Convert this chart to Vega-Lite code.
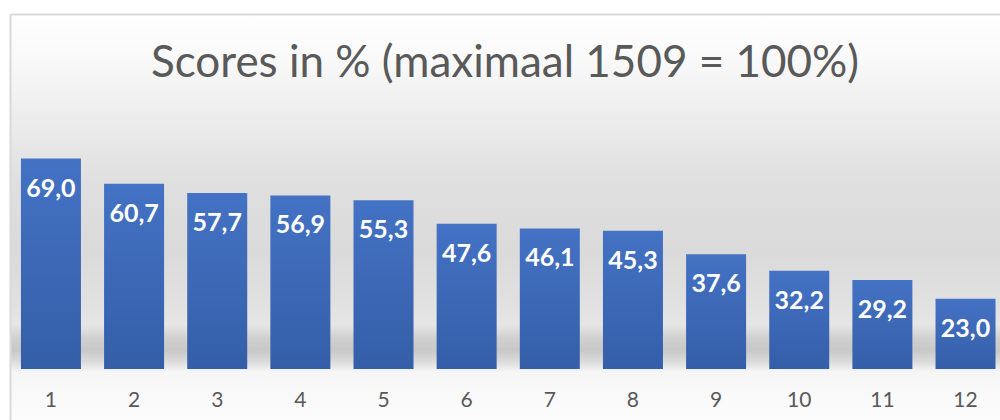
{
  "$schema": "https://vega.github.io/schema/vega-lite/v6.json",
  "width": 990,
  "height": 406,
  "autosize": "none",
  "padding": {"left": 10, "top": 14, "right": 0, "bottom": 0},
  "background": "#ffffff",
  "view": {
    "stroke": null,
    "fill": {
      "gradient": "linear", "x1": 0, "y1": 0, "x2": 0, "y2": 1,
      "stops": [
        {"offset": 0, "color": "#ffffff"},
        {"offset": 0.113, "color": "#f9f9f9"},
        {"offset": 0.261, "color": "#ececec"},
        {"offset": 0.409, "color": "#e0e0e0"},
        {"offset": 0.581, "color": "#dadada"},
        {"offset": 0.704, "color": "#e0e0e0"},
        {"offset": 0.766, "color": "#e6e6e6"},
        {"offset": 0.798, "color": "#d0d0d0"},
        {"offset": 0.828, "color": "#c8c8c8"},
        {"offset": 0.857, "color": "#dcdcdc"},
        {"offset": 0.872, "color": "#ececec"},
        {"offset": 0.882, "color": "#f6f6f6"},
        {"offset": 1, "color": "#fcfcfc"}
      ]
    }
  },
  "config": {
    "font": "Lato",
    "locale": {"number": {"decimal": ",", "thousands": ".", "grouping": [3], "currency": ["€", ""]}}
  },
  "title": {
    "text": "Scores in % (maximaal 1509 = 100%)",
    "font": "Lato",
    "fontSize": 44,
    "fontWeight": "normal",
    "color": "#595959",
    "anchor": "middle",
    "baseline": "alphabetic",
    "offset": 0,
    "dy": 107
  },
  "data": {
    "values": [
      {"rank": 1, "score": 69.0},
      {"rank": 2, "score": 60.7},
      {"rank": 3, "score": 57.7},
      {"rank": 4, "score": 56.9},
      {"rank": 5, "score": 55.3},
      {"rank": 6, "score": 47.6},
      {"rank": 7, "score": 46.1},
      {"rank": 8, "score": 45.3},
      {"rank": 9, "score": 37.6},
      {"rank": 10, "score": 32.2},
      {"rank": 11, "score": 29.2},
      {"rank": 12, "score": 23.0}
    ]
  },
  "encoding": {
    "y": {
      "field": "score", "type": "quantitative",
      "scale": {"domain": [-16.72, 116.39], "nice": false, "zero": false},
      "axis": {"orient": "left", "domain": true, "domainColor": "#d9d9d9", "domainWidth": 2, "ticks": false, "labels": false, "grid": false, "title": null}
    }
  },
  "layer": [
    {
      "mark": {
        "type": "bar",
        "color": {
          "gradient": "linear", "x1": 0, "y1": 0, "x2": 0, "y2": 1,
          "stops": [
            {"offset": 0, "color": "#4472c4"},
            {"offset": 1, "color": "#345ea8"}
          ]
        }
      },
      "encoding": {
        "x": {
          "field": "rank", "type": "ordinal",
          "scale": {"paddingInner": 0.2783, "paddingOuter": 0.0926, "align": 0.71},
          "axis": {"orient": "bottom", "offset": -51, "domain": false, "ticks": false, "labelFont": "Lato", "labelFontSize": 21, "labelColor": "#595959", "labelPadding": 31, "labelBaseline": "middle", "labelAngle": 0, "title": null, "grid": false}
        },
        "y2": {"datum": 0}
      }
    },
    {
      "mark": {"type": "text", "color": "#ffffff", "font": "Lato", "fontWeight": "bold", "fontSize": 25, "baseline": "middle", "dy": 30},
      "encoding": {
        "x": {
          "field": "rank", "type": "ordinal",
          "scale": {"paddingInner": 0.2783, "paddingOuter": 0.0926, "align": 0.71},
          "axis": {"orient": "top", "domain": true, "domainColor": "#d9d9d9", "domainWidth": 2, "ticks": false, "labels": false, "title": null, "grid": false}
        },
        "text": {"field": "score", "type": "quantitative", "format": ".1f"}
      }
    }
  ],
  "resolve": {"axis": {"x": "independent"}}
}
